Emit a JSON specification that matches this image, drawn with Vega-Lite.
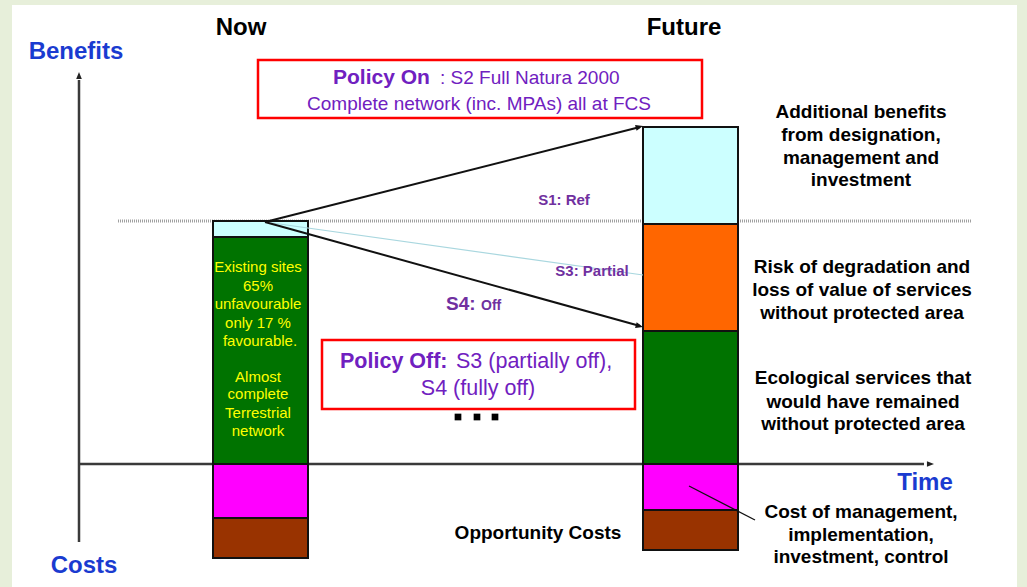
{
  "$schema": "https://vega.github.io/schema/vega-lite/v6.json",
  "width": 1027,
  "height": 587,
  "padding": 0,
  "autosize": {"type": "fit", "contains": "padding"},
  "background": "#e7efda",
  "config": {"view": {"stroke": null}, "text": {"font": "Liberation Sans"}},
  "datasets": {
    "bars": [
      {"bar": "Now", "part": "Additional benefits", "x": 213, "x2": 308, "y": 227, "y2": 243},
      {"bar": "Now", "part": "Ecological services", "x": 213, "x2": 308, "y": 0, "y2": 227},
      {"bar": "Now", "part": "Management cost", "x": 213, "x2": 308, "y": -54, "y2": 0},
      {"bar": "Now", "part": "Opportunity cost", "x": 213, "x2": 308, "y": -94, "y2": -54},
      {"bar": "Future", "part": "Additional benefits", "x": 643, "x2": 738, "y": 240, "y2": 337},
      {"bar": "Future", "part": "Risk of degradation", "x": 643, "x2": 738, "y": 133, "y2": 240},
      {"bar": "Future", "part": "Ecological services", "x": 643, "x2": 738, "y": 0, "y2": 133},
      {"bar": "Future", "part": "Management cost", "x": 643, "x2": 738, "y": -46, "y2": 0},
      {"bar": "Future", "part": "Opportunity cost", "x": 643, "x2": 738, "y": -86, "y2": -46}
    ],
    "rightLabels": [
      {"x": 861, "y": 352, "t": "Additional benefits"},
      {"x": 861, "y": 329, "t": "from designation,"},
      {"x": 861, "y": 306, "t": "management and"},
      {"x": 861, "y": 284, "t": "investment"},
      {"x": 862, "y": 197, "t": "Risk of degradation and"},
      {"x": 862, "y": 174, "t": "loss of value of services"},
      {"x": 862, "y": 151, "t": "without protected area"},
      {"x": 863, "y": 86, "t": "Ecological services that"},
      {"x": 863, "y": 62, "t": "would have remained"},
      {"x": 863, "y": 40, "t": "without protected area"},
      {"x": 861, "y": -48, "t": "Cost of management,"},
      {"x": 861, "y": -71, "t": "implementation,"},
      {"x": 861, "y": -93, "t": "investment, control"},
      {"x": 538, "y": -69, "t": "Opportunity Costs"}
    ],
    "greenText": [
      {"x": 258, "y": 197, "t": "Existing sites"},
      {"x": 258, "y": 178, "t": "65%"},
      {"x": 258, "y": 160, "t": "unfavourable"},
      {"x": 258, "y": 141, "t": "only 17 %"},
      {"x": 260, "y": 123, "t": "favourable."},
      {"x": 258, "y": 87, "t": "Almost"},
      {"x": 258, "y": 70, "t": "complete"},
      {"x": 258, "y": 51, "t": "Terrestrial"},
      {"x": 258, "y": 33, "t": "network"}
    ]
  },
  "encoding": {
    "x": {"field": "x", "type": "quantitative", "scale": {"domain": [0, 1027], "nice": false, "zero": false}, "axis": null},
    "y": {"field": "y", "type": "quantitative", "scale": {"domain": [-123, 464], "nice": false, "zero": false}, "axis": null}
  },
  "layer": [
    {
      "data": {"values": [{"x": 12, "x2": 1017, "y": -123, "y2": 459}]},
      "mark": {"type": "rect", "fill": "#ffffff"},
      "encoding": {"x2": {"field": "x2"}, "y2": {"field": "y2"}}
    },
    {
      "data": {"values": [{"x": 118, "x2": 972, "y": 243, "y2": 243}]},
      "mark": {"type": "rule", "color": "#a0a0a0", "strokeWidth": 3, "strokeDash": [1, 1]},
      "encoding": {"x2": {"field": "x2"}, "y2": {"field": "y2"}}
    },
    {
      "data": {"values": [{"x": 79, "y": -78, "x2": 79, "y2": 384}, {"x": 79, "y": 0, "x2": 924, "y2": 0}]},
      "mark": {"type": "rule", "color": "#3a3a3a", "strokeWidth": 2.5},
      "encoding": {"x2": {"field": "x2"}, "y2": {"field": "y2"}}
    },
    {
      "data": {"values": [{"x": 79, "y": 392}]},
      "mark": {"type": "point", "shape": "M0,0 L-2,-0.8 L-2,0.8 Z", "filled": true, "color": "#222222", "opacity": 1, "size": 50, "angle": -90},
      "encoding": {}
    },
    {
      "data": {"values": [{"x": 934, "y": 0}]},
      "mark": {"type": "point", "shape": "M0,0 L-2,-0.8 L-2,0.8 Z", "filled": true, "color": "#222222", "opacity": 1, "size": 50, "angle": 0},
      "encoding": {}
    },
    {
      "data": {"name": "bars"},
      "mark": {"type": "rect", "stroke": "#111111", "strokeWidth": 2},
      "encoding": {
        "x2": {"field": "x2"},
        "y2": {"field": "y2"},
        "color": {
          "field": "part",
          "type": "nominal",
          "legend": null,
          "scale": {
            "domain": ["Additional benefits", "Risk of degradation", "Ecological services", "Management cost", "Opportunity cost"],
            "range": ["#ccffff", "#ff6600", "#007300", "#ff00ff", "#993300"]
          }
        }
      }
    },
    {
      "data": {"values": [{"x": 265, "y": 242, "x2": 643, "y2": 189}]},
      "mark": {"type": "rule", "color": "#a9d7df", "strokeWidth": 1.2},
      "encoding": {"x2": {"field": "x2"}, "y2": {"field": "y2"}}
    },
    {
      "data": {"values": [{"x": 265, "y": 242, "x2": 640, "y2": 337}, {"x": 265, "y": 242, "x2": 640, "y2": 138}]},
      "mark": {"type": "rule", "color": "#111111", "strokeWidth": 2},
      "encoding": {"x2": {"field": "x2"}, "y2": {"field": "y2"}}
    },
    {
      "data": {"values": [{"x": 643, "y": 338}]},
      "mark": {"type": "point", "shape": "M0,0 L-2,-0.8 L-2,0.8 Z", "filled": true, "color": "#111111", "opacity": 1, "size": 55, "angle": -14.2},
      "encoding": {}
    },
    {
      "data": {"values": [{"x": 643, "y": 137}]},
      "mark": {"type": "point", "shape": "M0,0 L-2,-0.8 L-2,0.8 Z", "filled": true, "color": "#111111", "opacity": 1, "size": 55, "angle": 15.5},
      "encoding": {}
    },
    {
      "data": {"values": [{"x": 689, "y": -22, "x2": 755, "y2": -56}]},
      "mark": {"type": "rule", "color": "#111111", "strokeWidth": 1.3},
      "encoding": {"x2": {"field": "x2"}, "y2": {"field": "y2"}}
    },
    {
      "data": {"values": [{"x": 258, "x2": 702, "y": 346, "y2": 404}, {"x": 322, "x2": 635, "y": 55, "y2": 124}]},
      "mark": {"type": "rect", "fill": "#ffffff", "stroke": "#ff0000", "strokeWidth": 2.5},
      "encoding": {"x2": {"field": "x2"}, "y2": {"field": "y2"}}
    },
    {
      "data": {"values": [{"x": 458, "y": 47}, {"x": 477, "y": 47}, {"x": 495, "y": 47}]},
      "mark": {"type": "point", "shape": "square", "filled": true, "color": "#000000", "opacity": 1, "size": 45},
      "encoding": {}
    },
    {
      "data": {"values": [{"x": 241, "y": 436, "t": "Now"}, {"x": 684, "y": 436, "t": "Future"}]},
      "mark": {"type": "text", "fontSize": 24, "fontWeight": "bold", "color": "#000000", "align": "center", "baseline": "middle"},
      "encoding": {"text": {"field": "t"}}
    },
    {
      "data": {"values": [{"x": 76, "y": 412, "t": "Benefits"}, {"x": 84, "y": -102, "t": "Costs"}, {"x": 925, "y": -19, "t": "Time"}]},
      "mark": {"type": "text", "fontSize": 24, "fontWeight": "bold", "color": "#1a3bd0", "align": "center", "baseline": "middle"},
      "encoding": {"text": {"field": "t"}}
    },
    {
      "data": {"name": "rightLabels"},
      "mark": {"type": "text", "fontSize": 19, "fontWeight": "bold", "color": "#000000", "align": "center", "baseline": "middle"},
      "encoding": {"text": {"field": "t"}}
    },
    {
      "data": {"name": "greenText"},
      "mark": {"type": "text", "fontSize": 15, "color": "#ffff00", "align": "center", "baseline": "middle"},
      "encoding": {"text": {"field": "t"}}
    },
    {
      "data": {"values": [{"x": 333, "y": 386, "t": "Policy On"}]},
      "mark": {"type": "text", "fontSize": 21, "fontWeight": "bold", "color": "#7020c0", "align": "left", "baseline": "middle"},
      "encoding": {"text": {"field": "t"}}
    },
    {
      "data": {"values": [{"x": 440, "y": 386, "t": ": S2 Full Natura 2000"}]},
      "mark": {"type": "text", "fontSize": 19, "color": "#7020c0", "align": "left", "baseline": "middle"},
      "encoding": {"text": {"field": "t"}}
    },
    {
      "data": {"values": [{"x": 479, "y": 360, "t": "Complete network (inc. MPAs) all at FCS"}]},
      "mark": {"type": "text", "fontSize": 19, "color": "#7020c0", "align": "center", "baseline": "middle"},
      "encoding": {"text": {"field": "t"}}
    },
    {
      "data": {"values": [{"x": 340, "y": 102, "t": "Policy Off:"}]},
      "mark": {"type": "text", "fontSize": 21.5, "fontWeight": "bold", "color": "#7020c0", "align": "left", "baseline": "middle"},
      "encoding": {"text": {"field": "t"}}
    },
    {
      "data": {"values": [{"x": 456, "y": 102, "t": "S3 (partially off),"}]},
      "mark": {"type": "text", "fontSize": 21.5, "color": "#7020c0", "align": "left", "baseline": "middle"},
      "encoding": {"text": {"field": "t"}}
    },
    {
      "data": {"values": [{"x": 478, "y": 75, "t": "S4 (fully off)"}]},
      "mark": {"type": "text", "fontSize": 21.5, "color": "#7020c0", "align": "center", "baseline": "middle"},
      "encoding": {"text": {"field": "t"}}
    },
    {
      "data": {"values": [{"x": 564, "y": 264, "t": "S1: Ref"}, {"x": 592, "y": 193, "t": "S3: Partial"}]},
      "mark": {"type": "text", "fontSize": 15, "fontWeight": "bold", "color": "#7030a0", "align": "center", "baseline": "middle"},
      "encoding": {"text": {"field": "t"}}
    },
    {
      "data": {"values": [{"x": 446, "y": 154, "t": "S4:"}]},
      "mark": {"type": "text", "fontSize": 19, "fontWeight": "bold", "color": "#7030a0", "align": "left", "baseline": "alphabetic"},
      "encoding": {"text": {"field": "t"}}
    },
    {
      "data": {"values": [{"x": 481, "y": 154, "t": "Off"}]},
      "mark": {"type": "text", "fontSize": 14, "fontWeight": "bold", "color": "#7030a0", "align": "left", "baseline": "alphabetic"},
      "encoding": {"text": {"field": "t"}}
    }
  ]
}
